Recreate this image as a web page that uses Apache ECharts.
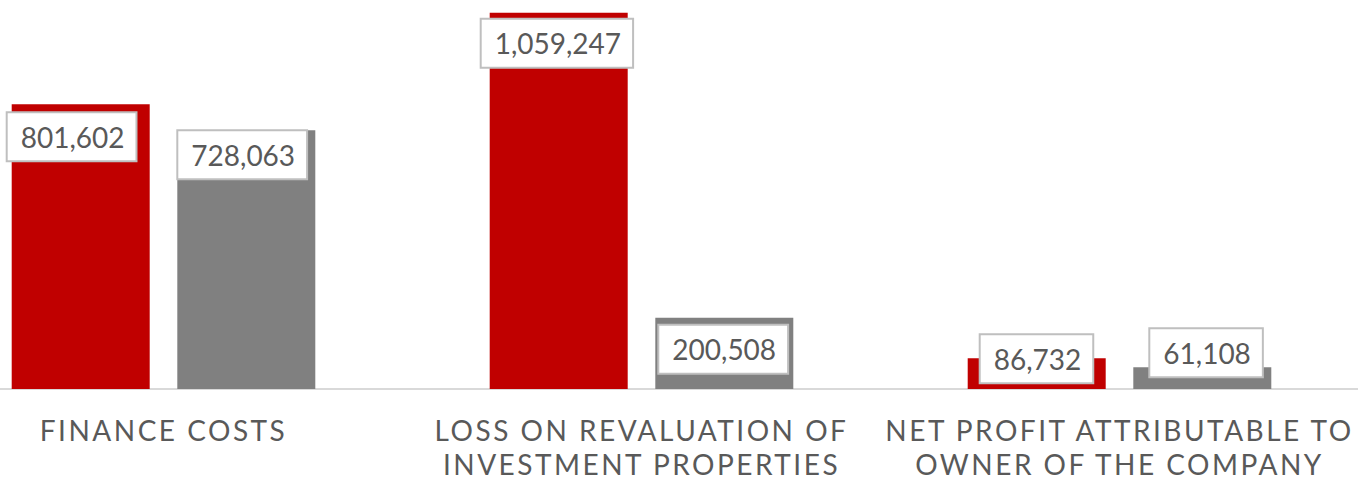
<!DOCTYPE html>
<html>
<head>
<meta charset="utf-8">
<script src="https://cdn.jsdelivr.net/npm/echarts@6/dist/echarts.min.js"></script>
<style>
html,body{margin:0;padding:0;background:#ffffff;overflow:hidden;}
#main{width:1358px;height:481px;}
</style>
</head>
<body>
<div id="main"></div>
<script>
var categories = ['FINANCE COSTS', 'LOSS ON REVALUATION OF\nINVESTMENT PROPERTIES', 'NET PROFIT ATTRIBUTABLE TO\nOWNER OF THE COMPANY'];
var seriesA = [801602, 1059247, 86732];
var seriesB = [728063, 200508, 61108];

// label box placement relative to each bar's top-left corner (styling only)
var labelPosA = [[-4, 9], [-8, 7], [13, -23]];
var labelPosB = [[1, 1], [4, 8], [17, -38]];

var labelBase = {
  show: true,
  color: '#595959',
  fontFamily: 'Lato',
  fontSize: 28,
  lineHeight: 29,
  backgroundColor: '#ffffff',
  borderColor: '#bfbfbf',
  borderWidth: 2,
  padding: [9, 11, 9, 13],
  align: 'left',
  verticalAlign: 'top',
  formatter: function (p) { return p.value.toLocaleString('en-US'); }
};

function buildData(vals, pos) {
  return vals.map(function (v, i) {
    return { value: v, label: { position: pos[i] } };
  });
}

var chart = echarts.init(document.getElementById('main'), null, { renderer: 'svg' });
chart.setOption({
  animation: false,
  backgroundColor: '#ffffff',
  grid: { left: -75.5, width: 1434, top: 0, bottom: 92, containLabel: false, outerBoundsMode: 'none' },
  xAxis: {
    type: 'category',
    data: categories,
    axisLine: { show: true, lineStyle: { color: '#d9d9d9', width: 2 } },
    axisTick: { show: false },
    axisLabel: {
      color: '#595959',
      fontFamily: 'Lato',
      fontSize: 28,
      lineHeight: 34,
      margin: 24,
      interval: 0
    }
  },
  yAxis: {
    type: 'value',
    min: 0,
    max: 1095000,
    show: false,
    splitLine: { show: false }
  },
  series: [
    {
      type: 'bar',
      data: buildData(seriesA, labelPosA),
      barWidth: 138,
      barGap: '20%',
      itemStyle: { color: '#c00000' },
      label: labelBase
    },
    {
      type: 'bar',
      data: buildData(seriesB, labelPosB),
      barWidth: 138,
      barGap: '20%',
      itemStyle: { color: '#808080' },
      label: labelBase
    }
  ]
});

function spaceCategoryText() {
  var texts = document.querySelectorAll('#main svg text');
  texts.forEach(function (t) {
    if (/[A-Z]/.test(t.textContent)) {
      t.style.letterSpacing = '2.5px';
    }
  });
}
chart.on('finished', spaceCategoryText);
spaceCategoryText();
</script>
</body>
</html>
